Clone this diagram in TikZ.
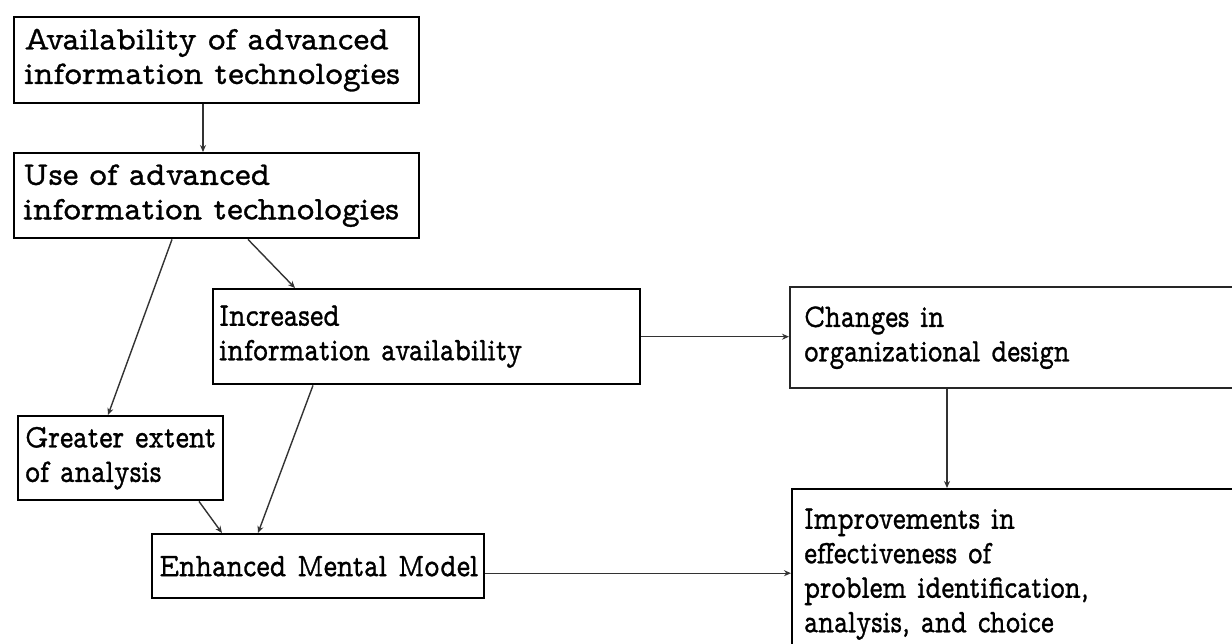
\documentclass[tikz,border=0pt]{standalone}
\usepackage{fontspec}
\newfontfamily\fA[FakeStretch=1.02,FakeBold=0.9]{lmmonoprop10-regular.otf}
\newfontfamily\fB[FakeStretch=0.86,FakeBold=0.9]{lmmonoprop10-regular.otf}
\newfontfamily\fC[FakeStretch=0.83,FakeBold=0.9]{lmmonoprop10-regular.otf}
\usetikzlibrary{arrows.meta,calc}
\newcommand\oneline[1]{\mbox{#1}}
\begin{document}
\begin{tikzpicture}[x=1pt,y=-1pt,
  box/.style={draw=black, line width=2.4pt, anchor=north west, inner ysep=0pt,
    align=left, font=\fontsize{33}{34.5}\selectfont},
  arr/.style={draw=black!80, line width=1.4pt, -{Stealth[length=7pt,width=6pt]}}]
\useasboundingbox (0,0) rectangle (1232,643);
\clip (0,0) rectangle (1232,643);
\fill[white] (0,0) rectangle (1232,643);
\node[box, inner xsep=10pt, text width=385pt, minimum height=86pt] (avail) at (13,16)
  {\fA\oneline{Availability of advanced}\\\fA\oneline{information technologies}};
\node[box, inner xsep=9pt, text width=387pt, minimum height=85pt] (use) at (13,152)
  {\fA\oneline{Use of advanced}\\\fA\oneline{information technologies}};
\node[box, inner xsep=6pt, text width=415pt, minimum height=95pt] (incr) at (212,288)
  {\fB\oneline{Increased}\\\fB\oneline{information availability}};
\node[box, inner xsep=7pt, text width=191pt, minimum height=84pt] (greater) at (17,415)
  {\fB\oneline{Greater extent}\\\fB\oneline{of analysis}};
\node[box, inner xsep=7pt, text width=318pt, minimum height=64pt] (enh) at (151,533)
  {\fB\oneline{Enhanced Mental Model}};
\node[box, draw=black!85, inner xsep=14pt, text width=440pt, minimum height=101pt] (changes) at (789,286)
  {\fC\oneline{Changes in}\\\fC\oneline{organizational design}};
\node[box, inner xsep=12pt, text width=440pt, minimum height=170pt] (impr) at (791,488)
  {\fC\oneline{Improvements in}\\\fC\oneline{effectiveness of}\\\fC\oneline{problem identification,}\\\fC\oneline{analysis, and choice}};
\coordinate (ee) at ([yshift=-7pt]enh.east);
\draw[arr] ([xshift=190pt]avail.south west) -- ([xshift=190pt]use.north west);
\draw[arr] ([xshift=159pt]use.south west) -- ([xshift=91pt]greater.north west);
\draw[arr] ([xshift=235pt]use.south west) -- ([xshift=83pt]incr.north west);
\draw[arr] ([xshift=182pt]greater.south west) -- ([xshift=71pt]enh.north west);
\draw[arr] ([xshift=101pt]incr.south west) -- ([xshift=107pt]enh.north west);
\draw[arr] (incr.east) -- (changes.west |- incr.east);
\draw[arr] ([xshift=158pt]changes.south west) -- ([xshift=156pt]impr.north west);
\draw[arr] (ee) -- (impr.west |- ee);
\end{tikzpicture}
\end{document}
